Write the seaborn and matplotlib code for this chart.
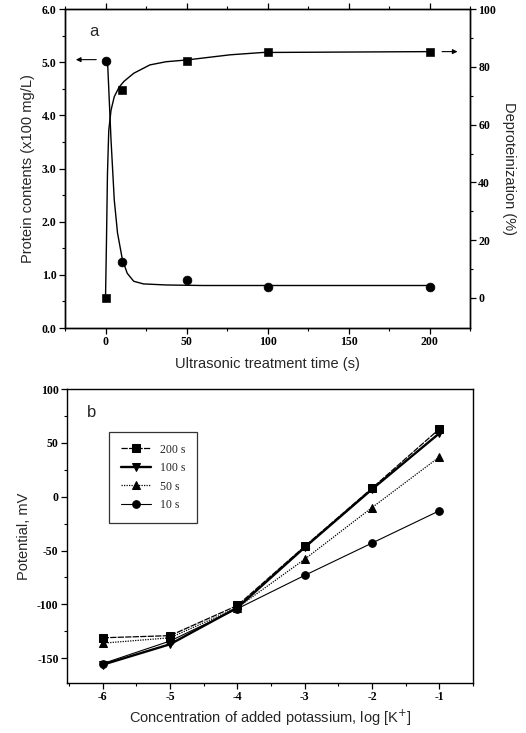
import numpy as np
import pandas as pd
import seaborn as sns
import matplotlib.pyplot as plt

# panel a: measured points
time_s = [0, 10, 50, 100, 200]
protein = [5.03, 1.25, 0.90, 0.78, 0.78]          # x100 mg/L (left axis)
deprot = [0.0, 72.0, 82.0, 85.0, 85.0]            # % (right axis)

# panel a: fitted curves
fit_t_protein = [0, 1.4, 3.4, 5.4, 7.4, 10.4, 13.4, 17.4, 23.4, 37.4, 60, 100, 200]
fit_protein = [5.03, 4.92, 3.54, 2.41, 1.79, 1.29, 1.03, 0.88, 0.83, 0.81, 0.80, 0.80, 0.80]
fit_t_deprot = [0, 0.6, 1.2, 2.0, 3.4, 5.4, 8.4, 11.4, 17.4, 27.4, 37.4, 50, 77, 97, 200]
fit_deprot = [0.0, 20.0, 43.0, 58.0, 65.0, 69.7, 73.0, 75.0, 77.8, 80.7, 81.8, 82.4, 84.2, 85.0, 85.3]

# panel b
log_k = [-6, -5, -4, -3, -2, -1]
series_names = ["200 s", "100 s", "50 s", "10 s"]
pot_200 = [-131, -129, -101, -46, 8, 63]
pot_100 = [-156, -137, -103, -47, 7, 59]
pot_50 = [-136, -131, -103, -58, -10, 37]
pot_10 = [-155, -134, -104, -73, -43, -13]

sns.set_style("ticks")
plt.rcParams['font.family'] = ['Liberation Sans', 'DejaVu Sans']
plt.rcParams['xtick.direction'] = 'out'
plt.rcParams['ytick.direction'] = 'out'

fig = plt.figure(figsize=(5.26, 7.33), dpi=100)
ax_a = fig.add_axes([0.1236, 0.5525, 0.770, 0.435])
ax_r = ax_a.twinx()
ax_b = fig.add_axes([0.1274, 0.0682, 0.772, 0.401])

tick_font = dict(family='Liberation Serif', weight='bold', size=8.5)

# ---- panel a ----
sns.lineplot(x=fit_t_protein, y=fit_protein, ax=ax_a, color='black', lw=1.0, sort=False)
sns.scatterplot(x=time_s, y=protein, ax=ax_a, color='black', marker='o', s=40, edgecolor='black')
sns.lineplot(x=fit_t_deprot, y=fit_deprot, ax=ax_r, color='black', lw=1.0, sort=False)
sns.scatterplot(x=time_s, y=deprot, ax=ax_r, color='black', marker='s', s=32, edgecolor='black')

ax_a.set_xlim(-24, 225)
ax_a.set_ylim(0, 6)
ax_r.set_ylim(-10.4, 100)
ax_a.set_xticks([0, 50, 100, 150, 200])
ax_a.set_xticks([-25, 25, 75, 125, 175, 225], minor=True)
ax_a.set_yticks(np.arange(0, 6.01, 1.0))
ax_a.set_yticks(np.arange(0.5, 6, 1.0), minor=True)
ax_a.set_yticklabels([f"{v:.1f}" for v in np.arange(0, 6.01, 1.0)], fontdict=tick_font)
ax_a.set_xticklabels(["0", "50", "100", "150", "200"], fontdict=tick_font)
ax_r.set_yticks([0, 20, 40, 60, 80, 100])
ax_r.set_yticks([10, 30, 50, 70, 90], minor=True)
ax_r.set_yticklabels(["0", "20", "40", "60", "80", "100"], fontdict=tick_font)
ax_a.tick_params(axis='x', which='both', top=True, labeltop=False)
ax_a.set_xlabel("Ultrasonic treatment time (s)", fontsize=10.5, labelpad=6)
ax_a.set_ylabel("Protein contents (x100 mg/L)", fontsize=10.5, labelpad=5)
ax_r.set_ylabel("Deproteinization (%)", fontsize=10.5, rotation=270, labelpad=14)
ax_a.text(0.06, 0.93, "a", transform=ax_a.transAxes, fontsize=12, va='center')

# axis arrows
ax_a.annotate("", xy=(-20, 5.05), xytext=(-4, 5.05),
              arrowprops=dict(arrowstyle='-|>', color='black', lw=0.8, mutation_scale=7))
ax_r.annotate("", xy=(219, 85.3), xytext=(206, 85.3),
              arrowprops=dict(arrowstyle='-|>', color='black', lw=0.8, mutation_scale=7))

for ax in (ax_a, ax_r):
    for sp in ax.spines.values():
        sp.set_linewidth(1.0)
        sp.set_color('black')
    ax.tick_params(which='major', length=4, width=0.9, colors='black', pad=2)
    ax.tick_params(which='minor', length=2, width=0.8, colors='black')

# ---- panel b ----
df_b = pd.DataFrame({
    "log_k": log_k * 4,
    "potential": pot_200 + pot_100 + pot_50 + pot_10,
    "series": [n for n in series_names for _ in log_k],
})
styles = {
    "200 s": dict(marker='s', ls=(0, (5, 1)), lw=0.9),
    "100 s": dict(marker='v', ls='-', lw=1.7),
    "50 s": dict(marker='^', ls=(0, (1, 1)), lw=0.9),
    "10 s": dict(marker='o', ls='-', lw=0.8),
}
for name in series_names:
    sub = df_b[df_b["series"] == name]
    st = styles[name]
    sns.lineplot(data=sub, x="log_k", y="potential", ax=ax_b, color='black',
                 marker=st['marker'], markersize=5.5, markeredgecolor='black',
                 linestyle=st['ls'], lw=st['lw'], label=name)

ax_b.set_xlim(-6.53, -0.5)
ax_b.set_ylim(-173, 100)
ax_b.set_xticks(log_k)
ax_b.set_xticks(np.arange(-6.5, -0.4, 1.0), minor=True)
ax_b.set_xticklabels([str(v) for v in log_k], fontdict=tick_font)
ax_b.set_yticks([-150, -100, -50, 0, 50, 100])
ax_b.set_yticks([-125, -75, -25, 25, 75], minor=True)
ax_b.set_yticklabels(["-150", "-100", "-50", "0", "50", "100"], fontdict=tick_font)
ax_b.set_xlabel("Concentration of added potassium, log [K$^{+}$]", fontsize=10.5, labelpad=3)
ax_b.set_ylabel("Potential, mV", fontsize=10.5, labelpad=4)
ax_b.text(0.05, 0.92, "b", transform=ax_b.transAxes, fontsize=12, va='center')
for sp in ax_b.spines.values():
    sp.set_linewidth(1.0)
    sp.set_color('black')
ax_b.tick_params(which='major', length=4, width=0.9, colors='black', pad=2)
ax_b.tick_params(which='minor', length=2, width=0.8, colors='black')

leg = ax_b.legend(loc='upper left', bbox_to_anchor=(0.09, 0.875), frameon=True,
                  fancybox=False, edgecolor='black', handlelength=2.5,
                  borderpad=1.0, labelspacing=0.55, prop=dict(family='Liberation Serif', size=8.5))
leg.get_frame().set_linewidth(0.9)

fig.savefig("out.png", dpi=100)
